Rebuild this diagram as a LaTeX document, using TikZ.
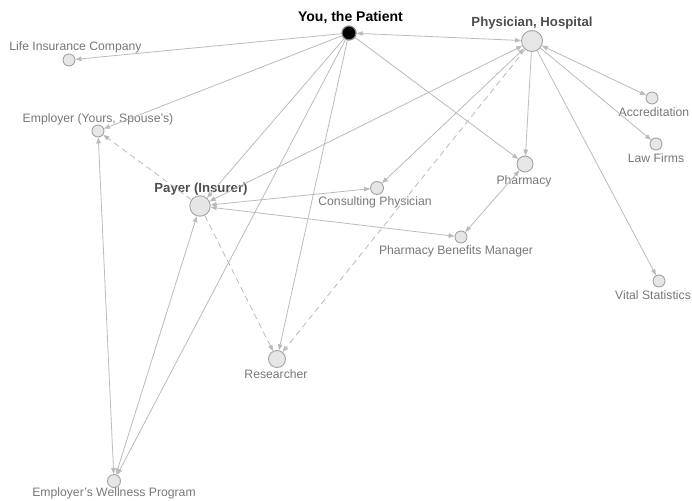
\documentclass[tikz,border=0pt]{standalone}
\usepackage{fontspec}
\setmainfont{Liberation Sans}
\usetikzlibrary{positioning,arrows.meta}
\definecolor{conngray}{HTML}{BBBBBB}
\definecolor{nodefill}{HTML}{E6E6E6}
\definecolor{nodeline}{HTML}{A3A3A3}
\definecolor{lbltext}{HTML}{777777}
\definecolor{keytext}{HTML}{4D4D4D}
\begin{document}
\begin{tikzpicture}[x=1pt, y=-1pt,
        actor/.style={circle, draw=nodeline, fill=nodefill, line width=0.9pt, inner sep=0pt, minimum size=12pt},
        lbl/.style={text=lbltext, font=\fontsize{12.2}{14}\selectfont, inner sep=0pt, text height=8.8pt, text depth=0pt},
        keylbl/.style={lbl, text=keytext, font=\fontsize{13.2}{15}\selectfont\bfseries, text height=9.5pt},
        conn/.style={draw=conngray, line width=0.8pt, >={Triangle[length=6pt, width=4.5pt]}},
        weak/.style={conn, dash pattern=on 6pt off 4pt}]
        \useasboundingbox (0,0) rectangle (692,500);

        % Nodes
        \node[actor, fill=black, draw=gray, line width=1.2pt, minimum size=14pt] (patient) at (349,33) {};
        \node[actor, minimum size=21pt] (physician) at (532,41) {};
        \node[actor, minimum size=20.5pt] (payer) at (200,206) {};
        \node[actor] (lifeins) at (69,60) {};
        \node[actor] (employer) at (98,131) {};
        \node[actor, minimum size=13pt] (consulting) at (377,188) {};
        \node[actor, minimum size=16pt] (pharmacy) at (525,164) {};
        \node[actor] (accred) at (652,98) {};
        \node[actor] (lawfirms) at (656,144) {};
        \node[actor] (pbm) at (461,237) {};
        \node[actor] (vitalstats) at (659,281) {};
        \node[actor, minimum size=17pt] (researcher) at (277,359) {};
        \node[actor, minimum size=13pt] (wellness) at (114,481) {};

        % Labels
        \node[keylbl, text=black, font=\fontsize{14}{16}\selectfont\bfseries, above=4pt of patient, xshift=1.5pt] (patient-t) {You, the Patient};
        \node[keylbl, above=3.5pt of physician] (physician-t) {Physician, Hospital};
        \node[keylbl, above=3pt of payer, xshift=1pt] (payer-t) {Payer (Insurer)};
        \node[lbl, above=3pt of lifeins, xshift=6.5pt] (lifeins-t) {Life Insurance Company};
        \node[lbl, above=2pt of employer] (employer-t) {Employer (Yours, Spouse's)};
        \node[lbl, below=2pt of consulting, xshift=-2pt] (consulting-t) {Consulting Physician};
        \node[lbl, below=3.5pt of pharmacy, xshift=-1pt] (pharmacy-t) {Pharmacy};
        \node[lbl, below=3.5pt of accred, xshift=2pt] (accred-t) {Accreditation};
        \node[lbl, below=3.5pt of lawfirms] (lawfirms-t) {Law Firms};
        \node[lbl, below=2.5pt of pbm, xshift=-5pt] (pbm-t) {Pharmacy Benefits Manager};
        \node[lbl, below=3pt of vitalstats, xshift=-6pt] (vitalstats-t) {Vital Statistics};
        \node[lbl, below=2pt of researcher, xshift=-1pt] (researcher-t) {Researcher};
        \node[lbl, below=0pt of wellness] (wellness-t) {Employer's Wellness Program};

        % Edges
        \draw[conn, ->] (patient) -- (lifeins);
        \draw[conn, ->] (patient) -- (employer);
        \draw[conn, <->] (patient) -- (physician);
        \draw[conn, ->] (patient) -- (payer);
        \draw[conn, ->] (patient) -- (wellness);
        \draw[conn, ->] (patient) -- (researcher);
        \draw[conn, ->] (patient) -- (pharmacy);
        \draw[conn, <->] (physician) -- (payer);
        \draw[conn, <->] (physician) -- (consulting);
        \draw[conn, ->] (physician) -- (pharmacy);
        \draw[weak, ->] (physician) -- (researcher);
        \draw[conn, <->] (physician) -- (accred);
        \draw[conn, ->] (physician) -- (lawfirms);
        \draw[conn, ->] (physician) -- (vitalstats);
        \draw[conn, <->] (payer) -- (consulting);
        \draw[conn, <->] (payer) -- (pbm);
        \draw[conn, <->] (pharmacy) -- (pbm);
        \draw[weak, ->] (payer) -- (employer);
        \draw[weak, ->] (payer) -- (researcher);
        \draw[conn, <->] (payer) -- (wellness);
        \draw[conn, <->] (employer) -- (wellness);
    \end{tikzpicture}
\end{document}
